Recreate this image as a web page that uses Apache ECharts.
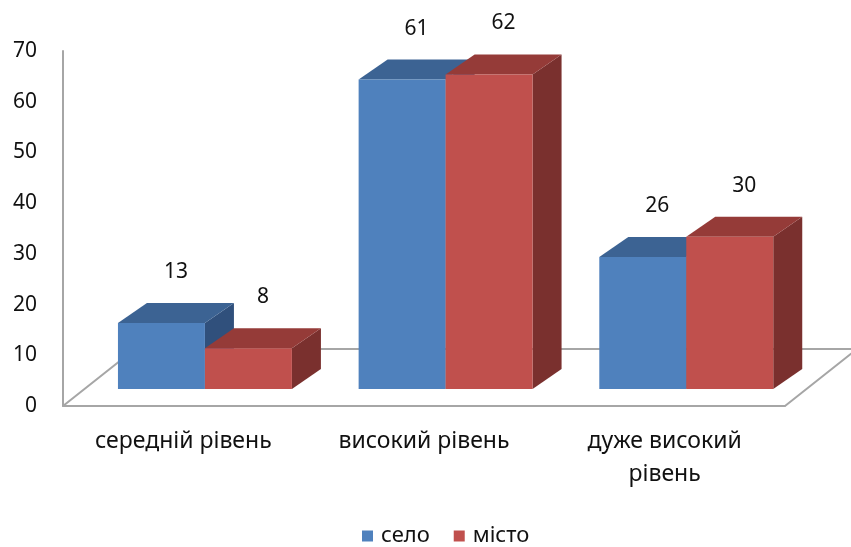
<!DOCTYPE html>
<html>
<head>
<meta charset="utf-8">
<script src="https://cdn.jsdelivr.net/npm/echarts@6/dist/echarts.min.js"></script>
<style>
  html, body { margin: 0; padding: 0; background: #fff; }
  #chart { width: 851px; height: 547px; }
</style>
</head>
<body>
<div id="chart"></div>
<script>
// ---- data ----
const categories = ['середній рівень', 'високий рівень', 'дуже високий рівень'];
const seriesNames = ['село', 'місто'];
const seloValues = [13, 61, 26];
const mistoValues = [8, 62, 30];
const yMin = 0, yMax = 70, yStep = 10;

// ---- style ----
const FONT = 'Noto Sans';
const TEXT = '#111';
const LINE = '#a6a6a6';
const palette = [
  { front: '#4F81BD', top: '#3C6393', side: '#30507C' },
  { front: '#C0504D', top: '#953B38', side: '#7A302E' }
];
const FLOOR_DX = 72, FLOOR_DY = 57;     // floor depth projection
const PLANE = 0.3;                       // bars' front plane inside floor
const BAR_DX = 29, BAR_DY = 20;          // bar depth projection
const BAR_FRAC = 0.3614;                 // bar width / category width
const LABEL_LIFT = 41;

const chart = echarts.init(document.getElementById('chart'));

function barRenderer(sIdx) {
  return function (params, api) {
    const cat = api.value(0), v = api.value(1);
    const base = api.coord([cat, 0]);
    const top = api.coord([cat, v]);
    const catW = api.size([1, 0])[0];
    const barW = catW * BAR_FRAC;
    const sx = FLOOR_DX * PLANE, sy = FLOOR_DY * PLANE;
    const cx = base[0] + sx;
    const x0 = sIdx === 0 ? cx - barW : cx;
    const x1 = x0 + barW;
    const yb = base[1] - sy;
    const yt = top[1] - sy;
    const c = palette[sIdx];
    return {
      type: 'group',
      children: [
        { type: 'polygon', shape: { points: [[x1, yt], [x1 + BAR_DX, yt - BAR_DY], [x1 + BAR_DX, yb - BAR_DY], [x1, yb]] }, style: { fill: c.side } },
        { type: 'polygon', shape: { points: [[x0, yt], [x0 + BAR_DX, yt - BAR_DY], [x1 + BAR_DX, yt - BAR_DY], [x1, yt]] }, style: { fill: c.top } },
        { type: 'rect', shape: { x: x0, y: yt, width: barW, height: yb - yt }, style: { fill: c.front } },
        { type: 'text', z2: 100, style: {
            text: String(v), x: (x0 + x1) / 2 + BAR_DX / 2, y: yt - BAR_DY / 2 - LABEL_LIFT,
            align: 'center', verticalAlign: 'middle', fill: TEXT, fontSize: 21, fontFamily: FONT } }
      ]
    };
  };
}

function floorRenderer(params, api) {
  const cs = params.coordSys;
  const xl = cs.x, xr = cs.x + cs.width, yf = cs.y + cs.height;
  return {
    type: 'group',
    children: [
      { type: 'polyline', shape: { points: [[xl, yf], [xl + FLOOR_DX, yf - FLOOR_DY], [xr + FLOOR_DX, yf - FLOOR_DY], [xr, yf]] },
        style: { stroke: LINE, lineWidth: 2, fill: null } }
    ]
  };
}

const option = {
  animation: false,
  backgroundColor: '#fff',
  textStyle: { fontFamily: FONT },
  grid: { left: 63, right: 66, top: 51, bottom: 141, containLabel: false },
  legend: {
    data: seriesNames,
    left: 362, top: 524, padding: 0,
    icon: 'rect', itemWidth: 11, itemHeight: 11, itemGap: 24,
    textStyle: { fontSize: 22, color: TEXT, fontFamily: FONT, padding: [0, 0, 0, 3], lineHeight: 24 }
  },
  xAxis: {
    type: 'category',
    data: categories,
    axisLine: { show: true, lineStyle: { color: LINE, width: 2 } },
    axisTick: { show: false },
    axisLabel: {
      interval: 0, fontSize: 23, color: TEXT, fontFamily: FONT, margin: 19, lineHeight: 33,
      formatter: function (s) { return s.length > 16 ? s.replace(/ (?=[^ ]*$)/, '\n') : s; }
    },
    splitLine: { show: false }
  },
  yAxis: {
    type: 'value', min: yMin, max: yMax, interval: yStep,
    axisLine: { show: true, lineStyle: { color: LINE, width: 2 } },
    axisTick: { show: false },
    axisLabel: { fontSize: 21, color: TEXT, fontFamily: FONT, margin: 26 },
    splitLine: { show: false }
  },
  series: [
    { type: 'custom', name: 'floor', z: 1, silent: true, clip: false,
      renderItem: floorRenderer, data: [[0, 0]], encode: { x: 0, y: 1 } },
    { type: 'custom', name: seriesNames[0], z: 2, clip: false,
      itemStyle: { color: palette[0].front },
      renderItem: barRenderer(0), data: seloValues.map((v, i) => [i, v]), encode: { x: 0, y: 1 } },
    { type: 'custom', name: seriesNames[1], z: 3, clip: false,
      itemStyle: { color: palette[1].front },
      renderItem: barRenderer(1), data: mistoValues.map((v, i) => [i, v]), encode: { x: 0, y: 1 } }
  ]
};
chart.setOption(option);
</script>
</body>
</html>
